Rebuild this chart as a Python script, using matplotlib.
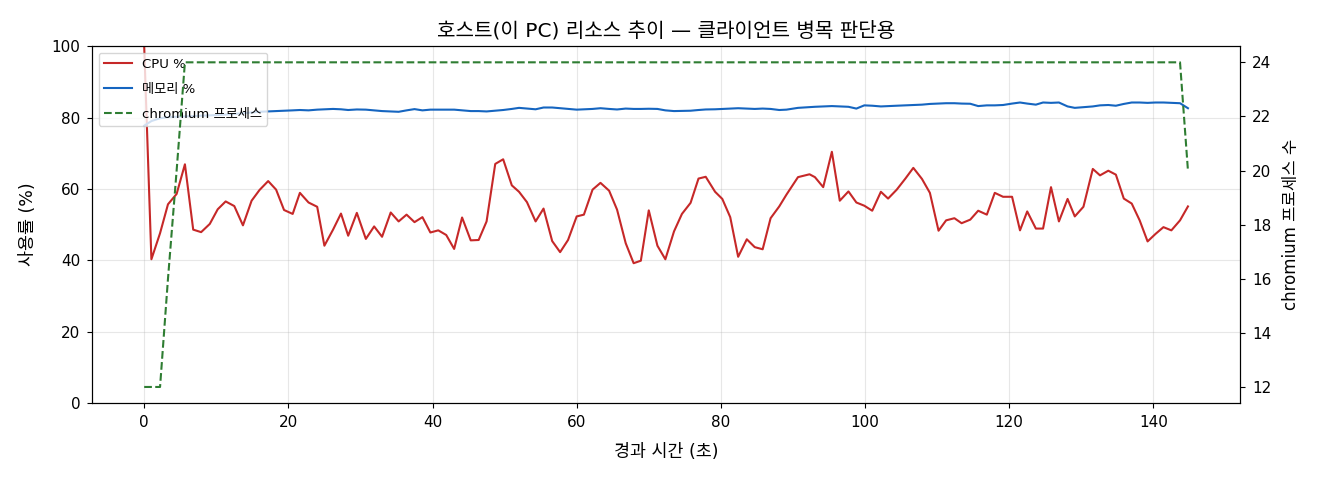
import matplotlib
matplotlib.use("Agg")
import matplotlib.pyplot as plt

plt.rcParams['font.family'] = ['DejaVu Sans', 'Noto Sans CJK KR']
plt.rcParams['axes.unicode_minus'] = False

# elapsed time (s)
times = [
    0.0, 1.0, 2.2, 3.3, 4.5, 5.65, 6.8, 7.9, 9.1, 10.2,
    11.3, 12.5, 13.7, 14.9, 16.0, 17.2, 18.3, 19.4, 20.6, 21.6,
    22.8, 24.0, 25.0, 26.2, 27.3, 28.3, 29.5, 30.75, 31.9, 33.0,
    34.2, 35.3, 36.4, 37.5, 38.6, 39.7, 40.8, 41.9, 43.0, 44.1,
    45.3, 46.4, 47.5, 48.7, 49.8, 51.0, 52.0, 53.1, 54.3, 55.4,
    56.6, 57.7, 58.8, 60.0, 61.0, 62.2, 63.3, 64.5, 65.6, 66.8,
    67.9, 68.9, 70.0, 71.2, 72.3, 73.5, 74.6, 75.8, 76.9, 77.9,
    79.2, 80.2, 81.3, 82.4, 83.6, 84.7, 85.8, 86.9, 88.1, 89.1,
    90.7, 92.3, 93.05, 94.2, 95.4, 96.5, 97.7, 98.8, 99.9, 101.0,
    102.2, 103.2, 104.4, 105.6, 106.7, 107.9, 109.0, 110.2, 111.25, 112.4,
    113.4, 114.6, 115.7, 116.9, 118.0, 119.15, 120.4, 121.5, 122.5, 123.7,
    124.7, 125.8, 126.9, 128.1, 129.1, 130.3, 131.6, 132.6, 133.75, 134.8,
    135.9, 137.0, 138.1, 139.2, 140.3, 141.4, 142.5, 143.7, 144.8,
]

cpu_pct = [
    100.0, 40.3, 47.6, 55.7, 58.6, 66.9, 48.6, 47.9, 50.2, 54.3,
    56.5, 55.2, 49.8, 56.7, 59.7, 62.2, 59.8, 54.1, 53.0, 58.9,
    56.2, 55.0, 44.1, 48.6, 53.1, 46.9, 53.3, 46.0, 49.5, 46.6,
    53.4, 50.9, 52.8, 50.7, 52.1, 47.8, 48.4, 47.1, 43.2, 52.0,
    45.6, 45.7, 50.9, 67.0, 68.3, 61.0, 59.2, 56.3, 50.9, 54.5,
    45.4, 42.3, 45.7, 52.3, 52.8, 59.8, 61.7, 59.5, 54.2, 44.8,
    39.2, 39.9, 54.0, 44.1, 40.3, 48.1, 53.0, 56.1, 62.9, 63.4,
    59.2, 57.2, 52.1, 41.0, 45.9, 43.7, 43.1, 51.8, 55.1, 58.4,
    63.3, 64.1, 63.3, 60.5, 70.4, 56.7, 59.3, 56.2, 55.3, 53.9,
    59.2, 57.3, 59.8, 62.9, 65.9, 62.8, 58.9, 48.3, 51.2, 51.8,
    50.4, 51.4, 53.9, 52.8, 58.9, 57.8, 57.8, 48.4, 53.7, 48.9,
    48.9, 60.5, 50.9, 57.2, 52.3, 55.0, 65.6, 63.8, 65.1, 64.0,
    57.3, 55.9, 51.2, 45.3, 47.4, 49.3, 48.4, 51.2, 55.1,
]

mem_pct = [
    77.7, 79.0, 79.8, 80.1, 80.2, 80.3, 80.4, 80.5, 80.6, 80.7,
    80.8, 81.0, 81.2, 81.4, 81.6, 81.7, 81.8, 81.9, 82.0, 82.1,
    82.0, 82.2, 82.3, 82.4, 82.3, 82.1, 82.25, 82.2, 82.0, 81.8,
    81.7, 81.6, 82.0, 82.35, 82.0, 82.2, 82.2, 82.2, 82.2, 82.0,
    81.8, 81.8, 81.7, 81.9, 82.1, 82.4, 82.7, 82.5, 82.3, 82.8,
    82.8, 82.6, 82.4, 82.2, 82.3, 82.4, 82.6, 82.4, 82.25, 82.5,
    82.4, 82.4, 82.45, 82.4, 82.0, 81.8, 81.85, 81.9, 82.1, 82.25,
    82.3, 82.4, 82.5, 82.6, 82.5, 82.4, 82.5, 82.4, 82.1, 82.2,
    82.7, 82.9, 83.0, 83.1, 83.2, 83.1, 83.0, 82.5, 83.4, 83.3,
    83.1, 83.2, 83.3, 83.4, 83.5, 83.6, 83.8, 83.9, 84.0, 84.0,
    83.9, 83.85, 83.2, 83.4, 83.4, 83.5, 83.9, 84.2, 83.9, 83.6,
    84.2, 84.1, 84.2, 83.1, 82.7, 82.9, 83.1, 83.4, 83.5, 83.3,
    83.8, 84.2, 84.2, 84.1, 84.2, 84.2, 84.1, 84.0, 82.6,
]

chromium_procs = [
    12, 12, 12, 16, 20, 24, 24, 24, 24, 24,
    24, 24, 24, 24, 24, 24, 24, 24, 24, 24,
    24, 24, 24, 24, 24, 24, 24, 24, 24, 24,
    24, 24, 24, 24, 24, 24, 24, 24, 24, 24,
    24, 24, 24, 24, 24, 24, 24, 24, 24, 24,
    24, 24, 24, 24, 24, 24, 24, 24, 24, 24,
    24, 24, 24, 24, 24, 24, 24, 24, 24, 24,
    24, 24, 24, 24, 24, 24, 24, 24, 24, 24,
    24, 24, 24, 24, 24, 24, 24, 24, 24, 24,
    24, 24, 24, 24, 24, 24, 24, 24, 24, 24,
    24, 24, 24, 24, 24, 24, 24, 24, 24, 24,
    24, 24, 24, 24, 24, 24, 24, 24, 24, 24,
    24, 24, 24, 24, 24, 24, 24, 24, 20,
]

title = "호스트(이 PC) 리소스 추이 — 클라이언트 병목 판단용"
xlabel = "경과 시간 (초)"
ylabel_left = "사용률 (%)"
ylabel_right = "chromium 프로세스 수"

fig = plt.figure(figsize=(13.2, 4.8), dpi=100)
ax = fig.add_axes([0.0697, 0.160, 0.8698, 0.744])

l1, = ax.plot(times, cpu_pct, color="#c62828", lw=1.5, label="CPU %")
l2, = ax.plot(times, mem_pct, color="#1565c0", lw=1.5, label="메모리 %")
ax.set_ylim(0, 100)
ax.set_xlabel(xlabel, fontsize=12.5, labelpad=9)
ax.set_ylabel(ylabel_left, fontsize=12.5, labelpad=10)
ax.set_title(title, fontsize=14.5, pad=7)
ax.grid(True, color="#b0b0b0", alpha=0.3, lw=0.8)
ax.tick_params(labelsize=11, pad=5)

ax2 = ax.twinx()
l3, = ax2.plot(times, chromium_procs, color="#2e7d32", lw=1.5, ls="--", label="chromium 프로세스")
ax2.set_ylabel(ylabel_right, fontsize=12, labelpad=8)
ax2.tick_params(labelsize=11, pad=5)

ax.legend(handles=[l1, l2, l3], loc="upper left", fontsize=9.5,
          labelspacing=0.9, handlelength=2.1, handletextpad=0.8)

fig.savefig("out.png", dpi=100)
